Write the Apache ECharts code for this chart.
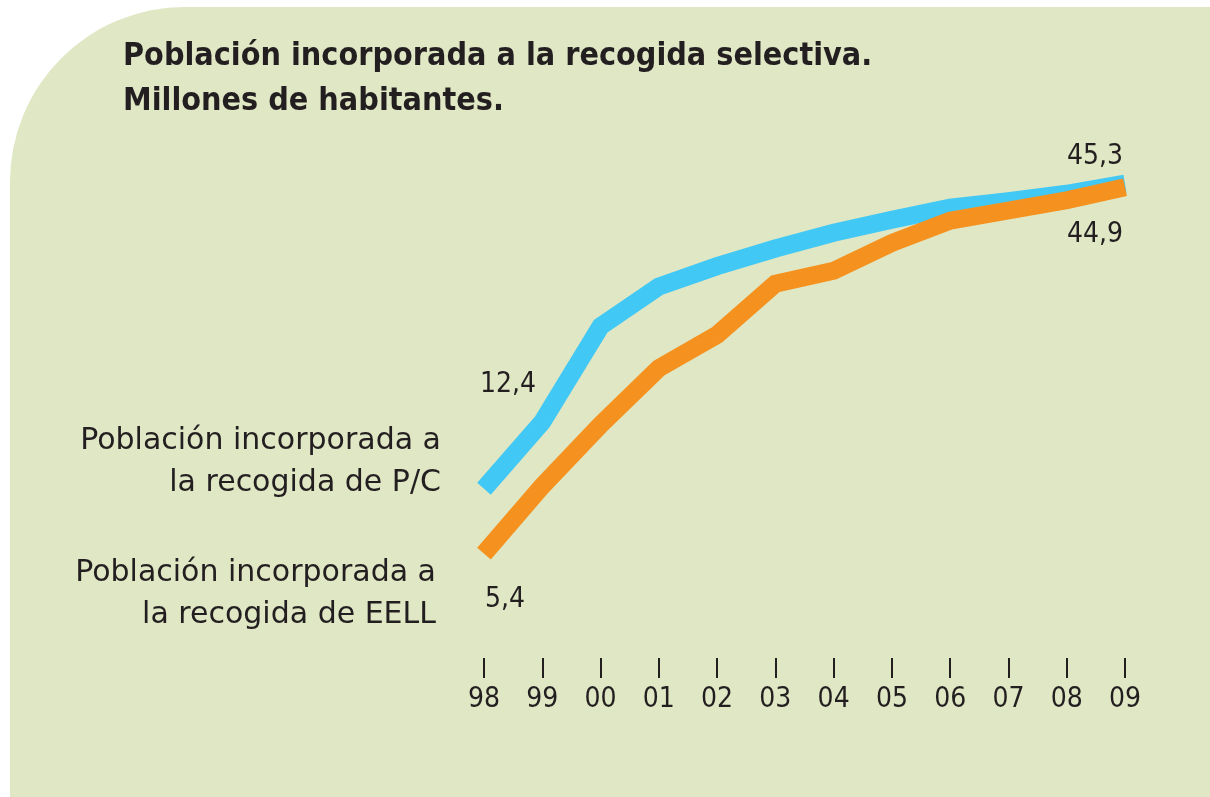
<!DOCTYPE html>
<html>
<head>
<meta charset="utf-8">
<script src="https://cdn.jsdelivr.net/npm/echarts@6/dist/echarts.min.js"></script>
<style>
  html, body { margin: 0; padding: 0; background: #ffffff; }
  #chart { width: 1210px; height: 797px; }
</style>
</head>
<body>
<div id="chart"></div>
<script>
// 데이터
var years = ['98', '99', '00', '01', '02', '03', '04', '05', '06', '07', '08', '09'];
var pcValues = [12.4, 19.6, 29.9, 34.2, 36.4, 38.3, 40.0, 41.4, 42.7, 43.4, 44.2, 45.3];
var eellValues = [5.4, 12.7, 19.3, 25.4, 29.0, 34.5, 35.9, 38.9, 41.3, 42.4, 43.5, 44.9];
var titleLines = ['Población incorporada a la recogida selectiva.', 'Millones de habitantes.'];
var pcLegend = ['Población incorporada a', 'la recogida de P/C'];
var eellLegend = ['Población incorporada a', 'la recogida de EELL'];

var FONT = "'DejaVu Sans Condensed', 'Liberation Sans Narrow', Roboto, sans-serif";
var NARROW = "'Liberation Sans Narrow', 'DejaVu Sans Condensed', Roboto, sans-serif";
var WIDE = "'DejaVu Sans', Roboto, sans-serif";
var TXT = '#231f20';

function fmt(v) {
	return String(v).replace('.', ',');
}

/**
 * 첫/마지막 점에만 값 라벨 표시
 * @param values
 * @param firstOffset
 * @param lastOffset
 */
function buildData(values, firstOffset, lastOffset) {
	return values.map(function(v, i) {
		var item = { value: v };
		if (i === 0 || i === values.length - 1) {
			item.label = {
				show: true,
				position: 'inside',
				offset: i === 0 ? firstOffset : lastOffset
			};
		}
		return item;
	});
}

function legendText(lines, right, y0, gap) {
	return lines.map(function(t, i) {
		return {
			type: 'text',
			x: right,
			y: y0 + i * gap,
			style: {
				text: t,
				align: 'right',
				verticalAlign: 'middle',
				fill: TXT,
				font: '30px ' + WIDE
			}
		};
	});
}

var chart = echarts.init(document.getElementById('chart'));

var graphics = [{
	type: 'rect',
	z: -10,
	shape: { x: 10, y: 7, width: 1200, height: 790, r: [175, 0, 0, 0] },
	style: { fill: '#e0e7c4' }
}];
titleLines.forEach(function(t, i) {
	graphics.push({
		type: 'text',
		x: 123,
		y: 57 + i * 45,
		style: {
			text: t,
			verticalAlign: 'middle',
			fill: TXT,
			font: 'bold 32px ' + FONT
		}
	});
});
graphics = graphics.concat(legendText(pcLegend, 441, 441, 42));
graphics = graphics.concat(legendText(eellLegend, 436, 573, 42));

var lineStyleBase = { width: 18, cap: 'butt', join: 'miter' };
var labelBase = {
	color: TXT,
	fontSize: 28,
	fontFamily: FONT,
	formatter: function(p) { return fmt(p.value); }
};

chart.setOption({
	animation: false,
	backgroundColor: '#ffffff',
	graphic: graphics,
	grid: { left: 484, right: 85, top: 140, bottom: 119 },
	xAxis: {
		type: 'category',
		data: years,
		boundaryGap: false,
		axisLine: { show: false, onZero: false },
		axisTick: {
			show: true,
			inside: true,
			length: 20,
			alignWithLabel: true,
			lineStyle: { color: TXT, width: 2 }
		},
		axisLabel: {
			margin: 8,
			color: TXT,
			fontSize: 28,
			fontFamily: NARROW
		},
		splitLine: { show: false }
	},
	yAxis: {
		type: 'value',
		min: -8,
		max: 50,
		show: false,
		splitLine: { show: false }
	},
	series: [{
		name: 'P/C',
		type: 'line',
		data: buildData(pcValues, [24, -104], [-30, -27]),
		symbol: 'circle',
		symbolSize: 0.1,
		showSymbol: true,
		itemStyle: { color: '#42c8f4' },
		lineStyle: Object.assign({ color: '#42c8f4' }, lineStyleBase),
		label: labelBase
	}, {
		name: 'EELL',
		type: 'line',
		data: buildData(eellValues, [21, 46], [-30, 47]),
		symbol: 'circle',
		symbolSize: 0.1,
		showSymbol: true,
		itemStyle: { color: '#f5921f' },
		lineStyle: Object.assign({ color: '#f5921f' }, lineStyleBase),
		label: labelBase
	}]
});
</script>
</body>
</html>
